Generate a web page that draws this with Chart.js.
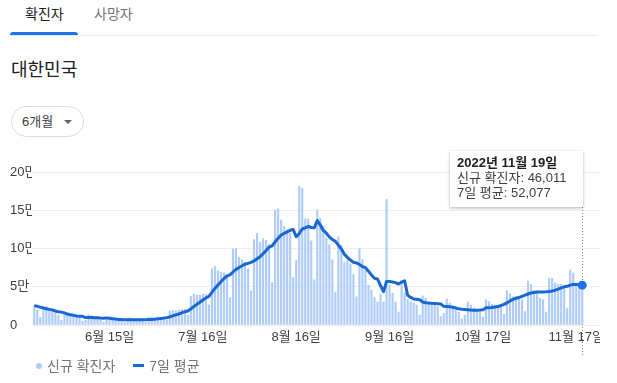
<!DOCTYPE html>
<html lang="ko">
<head>
<meta charset="utf-8">
<title>확진자 - 대한민국</title>
<script src="https://cdn.jsdelivr.net/npm/chart.js@4.4.1/dist/chart.umd.min.js"></script>
<style>
  body { margin: 0; background: #fff; font-family: Arial, "Noto Sans CJK KR", sans-serif; }
  #page { position: relative; width: 600px; height: 383px; overflow: hidden; }
  .tab { position: absolute; top: 5px; font-size: 14px; line-height: 18px; }
  #tabOn { left: 25px; color: #202124; }
  #tabOff { left: 94px; color: #70757a; }
  #tabLine { position: absolute; left: 10px; top: 35px; width: 588px; height: 1px; background: #e8eaed; }
  #tabBar { position: absolute; left: 10px; top: 32px; width: 68px; height: 3px; background: #1a73e8; border-radius: 3px 3px 0 0; }
  #title { position: absolute; left: 11px; top: 58px; font-size: 18px; line-height: 24px; color: #202124; }
  #range { position: absolute; left: 11px; top: 106px; width: 73px; height: 31px; box-sizing: border-box;
           border: 1px solid #dadce0; border-radius: 16px; font-size: 13px; line-height: 29px; color: #3c4043; padding-left: 10px; }
  #range i { position: absolute; left: 52px; top: 13px; width: 0; height: 0;
             border-left: 4px solid transparent; border-right: 4px solid transparent; border-top: 4px solid #5f6368; }
  #box { position: absolute; left: 0; top: 150px; width: 617px; height: 210px; }
  #tip { position: absolute; left: 450px; top: 151px; width: 133px; height: 56px; box-sizing: border-box; background: #fff;
         box-shadow: 0 1px 3px rgba(0,0,0,0.3); padding: 4px 0 0 7px; font-size: 13px; line-height: 15px; color: #3c4043; }
  #tip b { color: #202124; }
  #legend { position: absolute; left: 36px; top: 357px; font-size: 14px; line-height: 18px; color: #70757a; white-space: nowrap; }
  #legend .dot { display: inline-block; width: 6px; height: 6px; border-radius: 50%; background: #aecbfa; margin-right: 5px; vertical-align: 2px; }
  #legend .dash { display: inline-block; width: 11px; height: 3px; background: #1967d2; margin: 0 5px 0 18px; vertical-align: 4px; }
</style>
</head>
<body>
<div id="page">
  <div id="tabLine"></div>
  <div id="tabBar"></div>
  <div class="tab" id="tabOn">확진자</div>
  <div class="tab" id="tabOff">사망자</div>
  <div id="title">대한민국</div>
  <div id="range">6개월<i></i></div>
  <div id="box"><canvas id="covidChart" width="617" height="210"></canvas></div>
  <div id="tip"></div>
  <div id="legend"><span class="dot"></span>신규 확진자<span class="dash"></span>7일 평균</div>
</div>
<script>
// 2022-05-21 ~ 2022-11-19, one value per day
const newCases = [
  25125, 19298, 9975, 23946, 23956, 18000, 17000,
  16500, 12600, 6100, 16500, 13400, 12000, 12500,
  10000, 9800, 5000, 6200, 13300, 12100, 10100,
  9400, 6800, 3800, 9400, 9300, 7900, 7200,
  6000, 5800, 3500, 9300, 9300, 7500, 7200,
  6200, 6000, 3400, 9800, 10400, 9500, 10700,
  10000, 9500, 6200, 18100, 19300, 18500, 19300,
  20400, 20100, 12600, 37300, 40200, 39100, 38800,
  40300, 40000, 26200, 73500, 76400, 71100, 68600,
  68500, 65400, 35800, 99300, 100200, 88300, 85300,
  82000, 73500, 44600, 111700, 119900, 107800, 112900,
  110600, 105500, 55200, 149800, 151700, 137200, 128700,
  124500, 119600, 62000, 84100, 180800, 178500, 138800,
  138300, 110000, 59000, 150400, 139300, 129400, 113300,
  105100, 85200, 43100, 115300, 103900, 81500, 85000,
  80000, 66000, 37000, 99800, 85500, 72000, 52000,
  46000, 36000, 30000, 40000, 30000, 164000, 52000,
  41500, 30000, 17000, 58000, 42000, 33000, 30500,
  28500, 26000, 13000, 38000, 35000, 30000, 28500,
  27000, 24000, 11000, 15000, 34000, 28500, 23000,
  20000, 16500, 8000, 13000, 30000, 26000, 22000,
  20000, 17500, 10000, 33000, 30500, 27000, 26000,
  25000, 23000, 14000, 45000, 41000, 37000, 37000,
  35000, 33000, 17500, 57500, 53000, 45000, 43000,
  35000, 33000, 17000, 61000, 61000, 55000, 53000,
  53000, 49000, 22000, 72000, 68000, 55000, 53000,
  46011
];

const avg7 = [
  25300, 24400, 23400, 22300, 21300, 20400, 19600,
  18400, 17400, 16900, 15800, 14300, 13400, 12800,
  11900, 11500, 11300, 9800, 9800, 9800, 9500,
  9400, 9000, 8800, 9300, 8700, 8100, 7700,
  7200, 7100, 7000, 7000, 7000, 6900, 6900,
  7000, 7000, 7000, 7100, 7200, 7500, 8000,
  8500, 9000, 9400, 10600, 11900, 13200, 14400,
  15900, 17400, 18300, 21100, 24100, 27000, 29800,
  32600, 35500, 37400, 42600, 47800, 52300, 56600,
  60600, 64200, 65600, 69300, 72700, 75200, 77500,
  79500, 80600, 81900, 83700, 86500, 89300, 93200,
  97300, 101900, 103400, 108800, 113400, 117600, 119800,
  121800, 123800, 124800, 115400, 119600, 125500, 126900,
  128900, 127500, 127100, 136500, 130600, 123600, 120000,
  115200, 111700, 109400, 104400, 99300, 92500, 88400,
  84900, 82100, 81200, 79000, 76400, 75000, 70300,
  65500, 61200, 60200, 51600, 43700, 56900, 56900,
  56200, 55400, 53500, 56100, 57800, 39100, 36000,
  34100, 33600, 33000, 30100, 29100, 28700, 28400,
  28200, 27900, 27600, 24400, 24200, 24000, 23200,
  22200, 21100, 20700, 20400, 19900, 19500, 19400,
  19400, 19500, 19800, 22600, 22700, 22900, 23400,
  24100, 25500, 27000, 29000, 31500, 33500, 35000,
  36000, 37500, 39000, 40500, 42000, 42500, 43000,
  43200, 43300, 43400, 43800, 44500, 45500, 46800,
  48500, 49900, 50600, 52100, 53100, 53100, 53100,
  52077
];

const tickDays = [25, 56, 87, 118, 149, 180];
const tickLabels = ["6월 15일", "7월 16일", "8월 16일", "9월 16일", "10월 17일", "11월 17일"];

const dates = newCases.map((_, i) => {
  const d = new Date(2022, 4, 21 + i);
  return `${d.getFullYear()}년 ${d.getMonth() + 1}월 ${d.getDate()}일`;
});
const last = newCases.length - 1;

document.getElementById("tip").innerHTML =
  `<b>${dates[last]}</b><br>신규 확진자: ${newCases[last].toLocaleString("en-US")}<br>7일 평균: ${avg7[last].toLocaleString("en-US")}`;

Chart.defaults.font.family = 'Arial, "Noto Sans CJK KR", sans-serif';
Chart.defaults.font.size = 13;

const guideLine = {
  id: "guideLine",
  beforeDatasetsDraw(chart) {
    const x = Math.round(chart.scales.x.getPixelForValue(last)) + 0.5;
    const c = chart.ctx;
    c.save();
    c.strokeStyle = "#80868b";
    c.lineWidth = 1;
    c.setLineDash([1, 2]);
    c.beginPath();
    c.moveTo(x, 57);
    c.lineTo(x, 205);
    c.stroke();
    c.restore();
  }
};

new Chart(document.getElementById("covidChart"), {
  data: {
    datasets: [
      {
        type: "line",
        label: "7일 평균",
        data: avg7.map((v, i) => ({ x: i, y: v })),
        borderColor: "#1967d2",
        borderWidth: 3,
        tension: 0,
        borderJoinStyle: "round",
        pointRadius: ctx => (ctx.dataIndex === last ? 4.5 : 0),
        pointBackgroundColor: "#1a73e8",
        pointBorderWidth: 0,
        order: 0
      },
      {
        type: "bar",
        label: "신규 확진자",
        data: newCases.map((v, i) => ({ x: i, y: v })),
        backgroundColor: "#aecbfa",
        barThickness: 1.5,
        order: 1
      }
    ]
  },
  options: {
    responsive: false,
    animation: false,
    devicePixelRatio: 1,
    layout: { padding: { left: 10, right: 17, top: 22, bottom: 0 } },
    plugins: { legend: { display: false }, tooltip: { enabled: false } },
    scales: {
      x: {
        type: "linear",
        offset: false,
        min: -0.76,
        max: 187.9,
        grid: { display: false, drawTicks: false },
        border: { display: false },
        afterBuildTicks: s => { s.ticks = tickDays.map(v => ({ value: v })); },
        afterFit: s => { s.height = 35; },
        ticks: {
          autoSkip: false,
          maxRotation: 0,
          padding: 5,
          color: "#3c4043",
          callback: v => tickLabels[tickDays.indexOf(v)]
        }
      },
      y: {
        min: 0,
        max: 200000,
        afterFit: s => { s.width = 22; },
        grid: { color: "#eeeeee", drawTicks: false },
        border: { display: false },
        ticks: {
          stepSize: 50000,
          crossAlign: "far",
          padding: 0,
          color: "#3c4043",
          callback: v => (v === 0 ? "0" : v / 10000 + "만")
        }
      }
    }
  },
  plugins: [guideLine]
});
</script>
</body>
</html>
